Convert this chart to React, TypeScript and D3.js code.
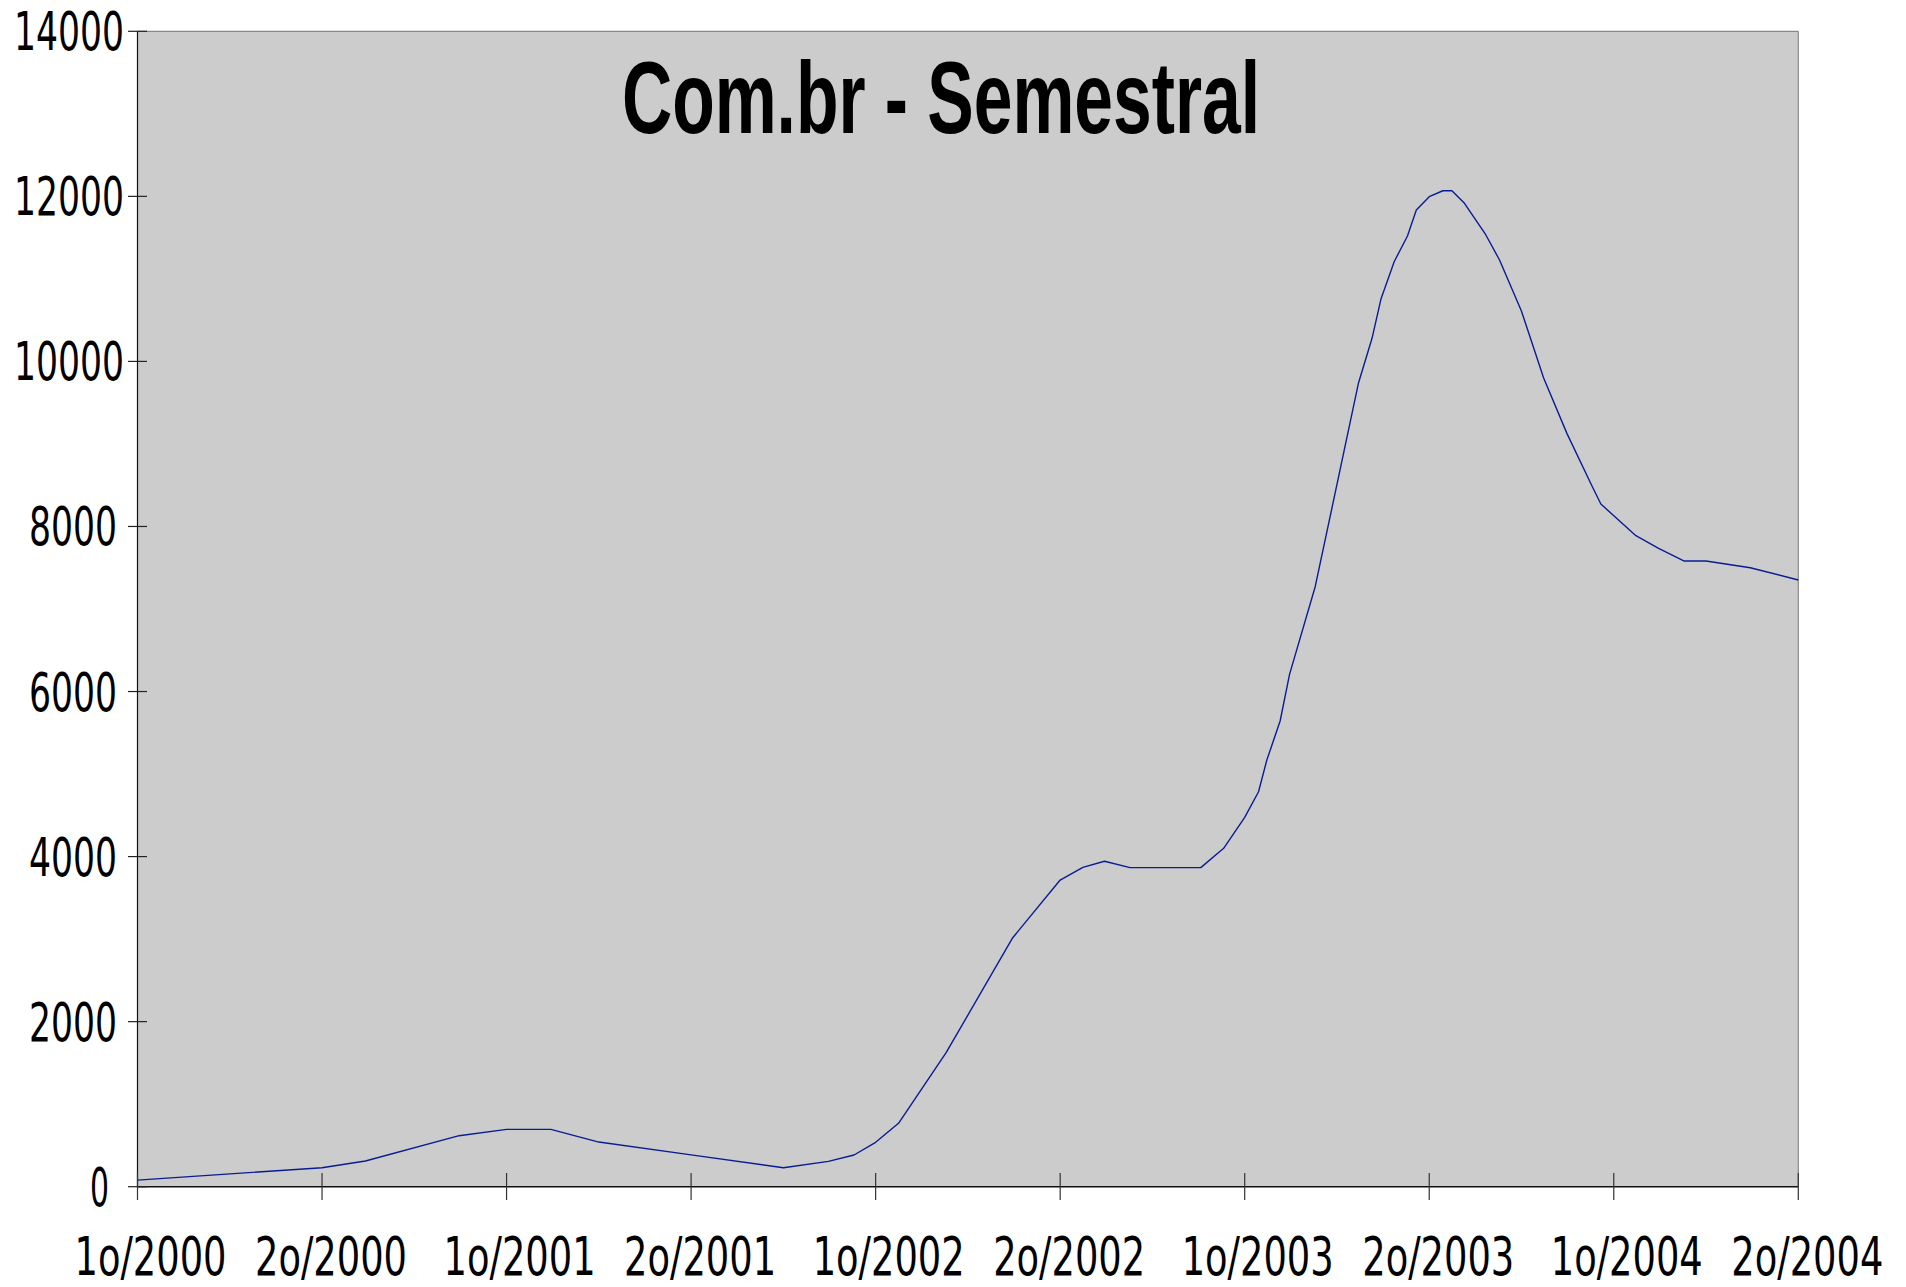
import React from "react";
import * as d3 from "d3";

// semester position (0 = 1o/2000, 1 = 2o/2000, ...) of each observation
const semesterPos = [
  0, 1.0, 1.235, 1.743, 2.0, 2.24, 2.5, 3.0, 3.5, 3.744, 3.883, 4.0, 4.124, 4.382,
  4.743, 5.0, 5.123, 5.24, 5.379, 5.502, 5.618, 5.762, 5.886, 6.0, 6.075, 6.12,
  6.192, 6.243, 6.382, 6.5, 6.617, 6.69, 6.738, 6.81, 6.882, 6.93, 7.0, 7.074,
  7.123, 7.191, 7.307, 7.381, 7.499, 7.62, 7.746, 7.882, 7.93, 8.12, 8.243, 8.382,
  8.5, 8.74, 9.0,
];
const domainCount = [
  80, 230, 311, 618, 695, 695, 541, 385, 230, 307, 384, 538, 768, 1624,
  3017, 3716, 3870, 3943, 3866, 3866, 3866, 3866, 4100, 4476, 4786, 5170,
  5643, 6208, 7270, 8510, 9742, 10280, 10752, 11208, 11519, 11834, 11996, 12068,
  12068, 11916, 11532, 11229, 10614, 9800, 9128, 8490, 8272, 7888, 7735, 7581,
  7581, 7500, 7351,
];
const semesterLabels = [
  "1o/2000", "2o/2000", "1o/2001", "2o/2001", "1o/2002",
  "2o/2002", "1o/2003", "2o/2003", "1o/2004", "2o/2004",
];
const yTicks = [0, 2000, 4000, 6000, 8000, 10000, 12000, 14000];
const chartTitle = "Com.br - Semestral";

const W = 1906;
const H = 1287;
const left = 137.5;
const right = 1798.3;
const top = 31.3;
const bottom = 1186.7;

const FONT = "'Liberation Sans Narrow', 'DejaVu Sans Condensed', 'Liberation Sans', sans-serif";

export default function App() {
  const x = d3.scaleLinear().domain([0, semesterLabels.length - 1]).range([left, right]);
  const y = d3.scaleLinear().domain([0, 14000]).range([bottom, top]);
  const pts = semesterPos.map((s, i) => [s, domainCount[i]] as [number, number]);
  const line = d3
    .line<[number, number]>()
    .x((d) => x(d[0]))
    .y((d) => y(d[1]));

  const yLabelEnd = (t: number) => {
    const n = String(t).length;
    return n >= 5 ? 124 : n === 4 ? 117 : 109;
  };

  return (
    <svg
      width={W}
      height={H}
      style={{ position: "absolute", left: 0, top: 0, background: "#fff" }}
    >
      <rect x={left} y={top} width={right - left} height={bottom - top} fill="#cccccc" />
      {/* plot border (top/right gray) */}
      <line x1={left} y1={top} x2={right} y2={top} stroke="#888" strokeWidth={1.2} />
      <line x1={right} y1={top} x2={right} y2={bottom} stroke="#888" strokeWidth={1.2} />

      <path d={line(pts) || ""} fill="none" stroke="#0a1c94" strokeWidth={1.4} strokeLinejoin="round" />

      {/* axes */}
      <line x1={left} y1={top} x2={left} y2={bottom} stroke="#111" strokeWidth={1.2} />
      <line x1={left} y1={bottom} x2={right} y2={bottom} stroke="#111" strokeWidth={1.4} />

      {yTicks.map((t) => (
        <g key={"y" + t}>
          <line x1={128} x2={147} y1={y(t)} y2={y(t)} stroke="#222" strokeWidth={1.2} />
          <text
            x={yLabelEnd(t)}
            y={y(t) + 19}
            textAnchor="end"
            fontFamily={FONT}
            fontSize={53}
            fill="#000"
            textLength={String(t).length === 1 ? 19 : String(t).length * 22}
            lengthAdjust="spacingAndGlyphs"
          >
            {t}
          </text>
        </g>
      ))}

      {semesterLabels.map((lab, i) => (
        <g key={lab}>
          <line x1={x(i)} x2={x(i)} y1={1173} y2={1200} stroke="#333" strokeWidth={1.2} />
          <text
            x={x(i) + (lab.startsWith("1") ? 13 : 9)}
            y={1275}
            textAnchor="middle"
            fontFamily={FONT}
            fontSize={53}
            fill="#000"
            textLength={152}
            lengthAdjust="spacingAndGlyphs"
          >
            {lab}
          </text>
        </g>
      ))}

      <text
        x={622}
        y={133}
        fontFamily="'Liberation Sans Narrow', 'Liberation Sans', Arial, sans-serif"
        fontWeight="bold"
        fontSize={102}
        fill="#000"
        textLength={638}
        lengthAdjust="spacingAndGlyphs"
      >
        {chartTitle}
      </text>
    </svg>
  );
}
